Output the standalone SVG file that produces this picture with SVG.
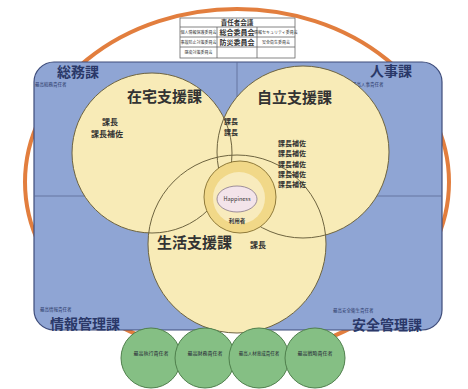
<svg xmlns="http://www.w3.org/2000/svg" width="468" height="389" viewBox="0 0 468 389">
<style>
text{font-family:"Noto Sans CJK JP","Noto Sans",sans-serif;}
.dept{font-size:14px;font-weight:bold;fill:#2a3868;}
.tiny{font-size:4.5px;fill:#2a3868;}
.ctitle{font-size:15px;font-weight:bold;fill:#333;}
.role{font-size:8px;font-weight:bold;fill:#333;}
.sub{font-size:7px;font-weight:bold;fill:#333;}
.cf{fill:#f8ebb7;}
.cs{fill:none;stroke:#6e6440;stroke-width:1;}
.green{fill:#85bf84;stroke:#4f7f4c;stroke-width:1;}
.gt{font-size:5px;fill:#223;text-anchor:middle;}
.tb{fill:#fff;stroke:#666;stroke-width:0.8;}
.tt{font-size:4px;fill:#333;text-anchor:middle;}
.tm{font-size:7px;font-weight:bold;fill:#333;text-anchor:middle;}
</style>
<rect width="468" height="389" fill="#fff"/>
<ellipse id="outer-ring" cx="237" cy="182" rx="212" ry="173" fill="none" stroke="#e27e3e" stroke-width="4"/>
<g id="table">
<rect class="tb" x="180" y="18" width="115" height="40"/>
<line x1="180" y1="27" x2="295" y2="27" stroke="#666" stroke-width="0.8"/>
<line x1="180" y1="37" x2="295" y2="37" stroke="#666" stroke-width="0.8"/>
<line x1="180" y1="47" x2="295" y2="47" stroke="#666" stroke-width="0.8"/>
<line x1="217" y1="27" x2="217" y2="58" stroke="#666" stroke-width="0.8"/>
<line x1="257" y1="27" x2="257" y2="58" stroke="#666" stroke-width="0.8"/>
<text x="237" y="25" class="tm" style="font-size:6.5px">責任者会議</text>
<text x="198.5" y="33.5" class="tt">個人情報保護委員会</text>
<text x="237" y="34.5" class="tm">総合委員会</text>
<text x="276" y="33.5" class="tt">情報セキュリティ委員会</text>
<text x="198.5" y="43.5" class="tt">事故防止対策委員会</text>
<text x="237" y="44.5" class="tm">防災委員会</text>
<text x="276" y="43.5" class="tt">安全衛生委員会</text>
<text x="198.5" y="54" class="tt">感染対策委員会</text>
</g>
<g id="departments">
<rect x="34" y="62" width="408" height="268" rx="20" fill="#8fa5d4" stroke="#3e4c7a" stroke-width="1.2"/>
<line x1="237" y1="62" x2="237" y2="330" stroke="#5a6a96" stroke-width="0.8"/>
<line x1="34" y1="196" x2="442" y2="196" stroke="#5a6a96" stroke-width="0.8"/>
</g>
<g id="soumu"><text x="57" y="77" class="dept">総務課</text><text x="35" y="86" class="tiny">最高総務責任者</text></g>
<g id="jinji"><text x="370" y="76" class="dept">人事課</text><text x="352" y="86" class="tiny">最高人事責任者</text></g>
<g id="jouhou"><text x="40" y="311" class="tiny">最高情報責任者</text><text x="50" y="329" class="dept">情報管理課</text></g>
<g id="anzen"><text x="333" y="311.5" class="tiny">最高安全衛生責任者</text><text x="352" y="330" class="dept">安全管理課</text></g>
<g id="circle-fills">
<circle class="cf" cx="152" cy="153" r="80"/>
<circle class="cf" cx="303" cy="152" r="86"/>
<circle class="cf" cx="237" cy="244" r="89"/>
</g>
<g id="circle-lines">
<circle class="cs" cx="152" cy="153" r="80"/>
<circle class="cs" cx="303" cy="152" r="86"/>
<circle class="cs" cx="237" cy="244" r="89"/>
</g>
<g id="zaitaku">
<text x="127" y="102" class="ctitle">在宅支援課</text>
<text x="102" y="125" class="role">課長</text>
<text x="91" y="137" class="role">課長補佐</text>
</g>
<g id="jiritsu">
<text x="257" y="103" class="ctitle">自立支援課</text>
<text x="224" y="124" class="sub">課長</text>
<text x="224" y="134.5" class="sub">課長</text>
<text x="278" y="146" class="sub">課長補佐</text>
<text x="278" y="156.3" class="sub">課長補佐</text>
<text x="278" y="166.6" class="sub">課長補佐</text>
<text x="278" y="176.9" class="sub">課長補佐</text>
<text x="278" y="187.2" class="sub">課長補佐</text>
</g>
<g id="seikatsu">
<text x="157" y="248" class="ctitle">生活支援課</text>
<text x="250" y="248" class="role">課長</text>
</g>
<g id="user">
<circle cx="240" cy="197" r="36" fill="#f1d888" stroke="#8f7a3a" stroke-width="1"/>
<circle cx="239" cy="198" r="26" fill="#f8ebbd"/>
<ellipse cx="237" cy="199" rx="20" ry="13" fill="#f3e4ea" stroke="#85768a" stroke-width="0.8"/>
<text x="237" y="201" style="font-size:5.5px;fill:#333;text-anchor:middle">Happiness</text>
<text x="237" y="223" style="font-size:5.5px;font-weight:bold;fill:#333;text-anchor:middle">利用者</text>
</g>
<g id="officer-1"><circle class="green" cx="151" cy="358" r="30"/><text x="151" y="355" class="gt">最高執行責任者</text></g>
<g id="officer-2"><circle class="green" cx="205" cy="358" r="30"/><text x="205" y="355" class="gt">最高財務責任者</text></g>
<g id="officer-3"><circle class="green" cx="259" cy="358" r="30"/><text x="259" y="355" class="gt" style="font-size:4.5px">最高人材育成責任者</text></g>
<g id="officer-4"><circle class="green" cx="315" cy="358" r="30"/><text x="315" y="355" class="gt">最高戦略責任者</text></g>
</svg>
